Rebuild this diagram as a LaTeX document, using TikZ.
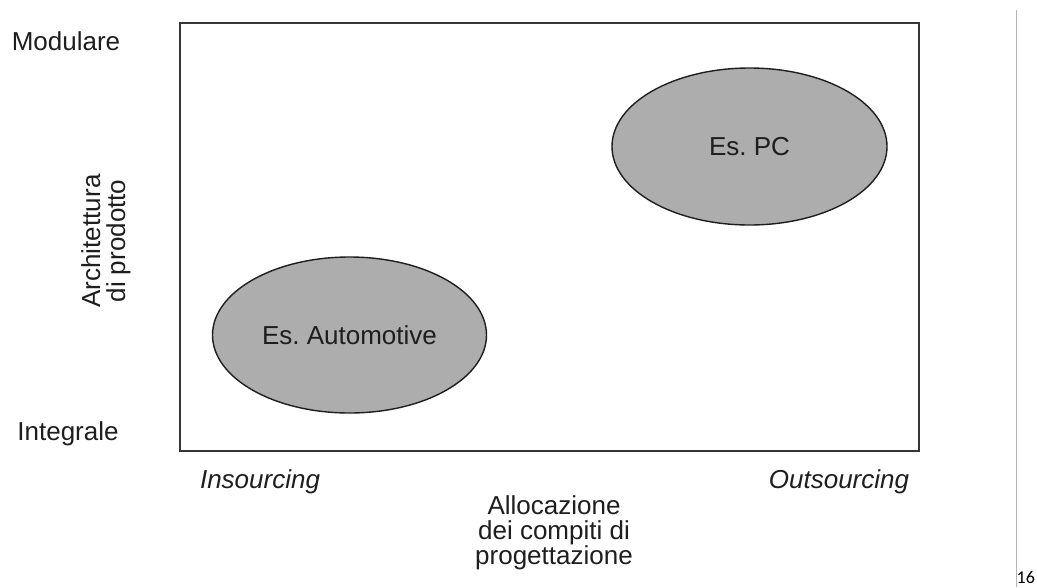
\documentclass[tikz,border=0pt]{standalone}
\usepackage{fontspec}
\setmainfont{Liberation Sans}
\newfontfamily\pagenumfont{Carlito}
\usetikzlibrary{shapes.geometric}
\definecolor{ink}{HTML}{1E1E1E}
\definecolor{blobfill}{HTML}{ADADAD}
\definecolor{rulegray}{HTML}{B4B4B4}
\frenchspacing
\tikzset{
  lbl/.style={text=ink, inner sep=0pt, font=\fontsize{26}{25}\selectfont},
  axlbl/.style={lbl, align=center},
  blob/.style={ellipse, draw=ink, line width=1.4pt, fill=blobfill, inner sep=0pt},
  frame/.style={draw=ink!90, line width=1.8pt},
}
\begin{document}
\begin{tikzpicture}[x=1pt, y=-1pt]
  \useasboundingbox (0,0) rectangle (1037,587);
  \fill[white] (0,0) rectangle (1037,587);

  % plotting frame
  \draw[frame] (180,23) rectangle (919,451);

  % axis end labels
  \node[lbl] (mod) at (66,41) {Modulare};
  \node[lbl] (int) at (68,434) {Integrale};
  \node[lbl, font=\fontsize{26}{25}\selectfont\itshape] (ins) at (260,482) {Insourcing};
  \node[lbl, font=\fontsize{26}{25}\selectfont\itshape] (out) at (839,482) {Outsourcing};

  % axis titles
  \node[axlbl, rotate=90] (yax) at (106,241) {Architettura\\di prodotto};
  \node[axlbl] (xax) at (554,533) {Allocazione\\dei compiti di\\progettazione};

  % regions
  \node[blob, minimum width=274pt, minimum height=156pt] (auto) at (349.5,335) {};
  \node[lbl] at (auto.center) {Es. Automotive};
  \node[blob, minimum width=275pt, minimum height=157pt] (pc) at (749.5,146.5) {};
  \node[lbl] at (pc.center) {Es. PC};

  % page margin rule and page number
  \coordinate (rtop) at (1016.5,10);
  \coordinate (rbot) at (1016.5,587);
  \draw[rulegray, line width=0.9pt] (rtop) -- (rbot);
  \node[inner sep=0pt, anchor=west, font=\pagenumfont\fontsize{18}{18}\selectfont] (pg) at (1016.5,577) {16};
\end{tikzpicture}
\end{document}
